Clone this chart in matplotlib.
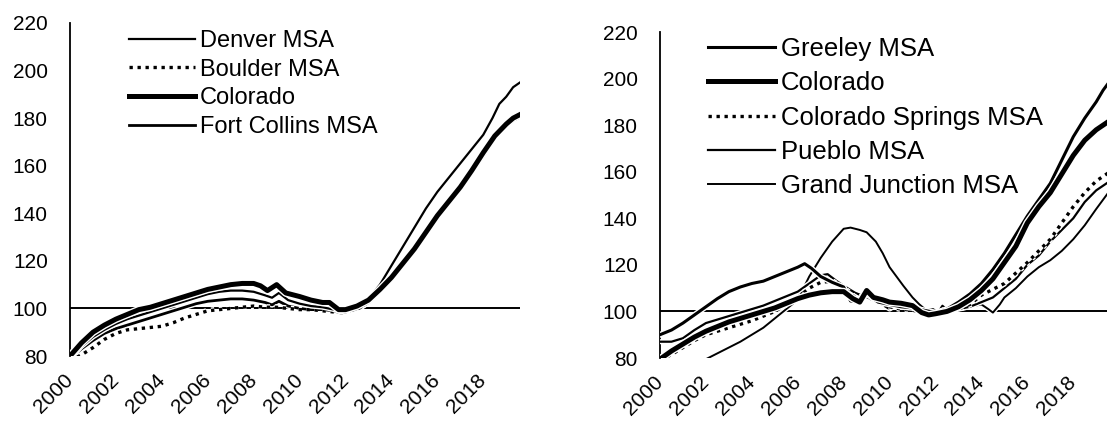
import matplotlib
matplotlib.use('Agg')
import matplotlib.pyplot as plt
import matplotlib.patheffects as pe

plt.rcParams['font.family'] = ['Liberation Sans', 'DejaVu Sans']

# ---- left panel data (index, 2012 ~ 100) ----
den_x = [2000.0, 2000.5, 2001, 2001.5, 2002, 2002.5, 2003, 2003.5, 2004, 2004.5, 2005, 2005.5, 2006, 2006.5,
         2007, 2007.5, 2008, 2008.5, 2008.8, 2009.1, 2009.5, 2010, 2010.5, 2011, 2011.5, 2011.8, 2012.2, 2012.6,
         2013, 2013.5, 2014, 2014.5, 2015, 2015.5, 2016, 2016.5, 2017, 2017.5, 2018, 2018.4, 2018.7, 2019.0,
         2019.3, 2019.6]
den_y = [79, 84, 88, 91, 93.5, 95.5, 97, 98.5, 100, 101.5, 103, 104.5, 106, 107,
         107.5, 107.5, 107, 105.5, 104.5, 106.5, 103.5, 102, 101, 100.5, 99.5, 98.5, 99.5, 101,
         104, 110, 118, 126, 134, 142, 149, 155, 161, 167, 173, 180, 186, 189,
         193, 195]

col_l_x = [2000, 2000.5, 2001, 2001.5, 2002, 2002.5, 2003, 2003.5, 2004, 2004.5, 2005, 2005.5, 2006, 2006.5,
           2007, 2007.5, 2008, 2008.3, 2008.6, 2009.0, 2009.4, 2010, 2010.5, 2011, 2011.3, 2011.7, 2012,
           2012.5, 2013, 2013.5, 2014, 2014.5, 2015, 2015.5, 2016, 2016.5, 2017, 2017.5, 2018, 2018.5, 2019,
           2019.3, 2019.6]
col_l_y = [80, 85.5, 90, 93, 95.5, 97.5, 99.5, 100.5, 102, 103.5, 105, 106.5, 108, 109,
           110, 110.5, 110.5, 109.5, 107.5, 110, 106.5, 105, 103.5, 102.5, 102.5, 99.5, 99.5,
           101, 103.5, 108, 113, 119, 125, 132, 139, 145, 151, 158, 165.5, 172.5, 177.5,
           180, 181.5]

fc_x = [2000, 2000.5, 2001, 2001.5, 2002, 2002.5, 2003, 2003.5, 2004, 2004.5, 2005, 2005.5, 2006, 2006.5,
        2007, 2007.5, 2008, 2008.5, 2008.8, 2009.1, 2009.5, 2010, 2010.5, 2011, 2011.5, 2011.8, 2012.2,
        2012.6, 2013, 2013.5, 2014, 2014.5, 2015, 2015.5, 2016, 2016.5, 2017, 2017.5, 2018, 2018.5, 2019,
        2019.3, 2019.6]
fc_y = [79, 83, 86.5, 89.5, 91.5, 93, 94.5, 96, 97.5, 99, 100.5, 102, 103, 103.5,
        104, 104, 103.5, 102.5, 101.5, 103, 101, 100, 99.5, 99.5, 99, 98, 99,
        100, 102.5, 107, 112, 118, 124, 131, 138, 144, 150, 157, 164, 171.5, 176.5,
        179, 180.5]

bou_x = [2000, 2000.5, 2001, 2001.5, 2002, 2002.5, 2003, 2003.5, 2004, 2004.5, 2005, 2005.5, 2006, 2006.5,
         2007, 2007.5, 2008, 2008.5, 2009, 2009.5, 2010, 2010.5, 2011, 2011.5, 2012, 2012.5, 2013, 2013.5,
         2014, 2014.5, 2015, 2015.5, 2016, 2016.5, 2017, 2017.5, 2018, 2018.5, 2019, 2019.3, 2019.6]
bou_y = [78, 80.5, 83.5, 87, 89.5, 91, 91.5, 92, 92.5, 94, 96, 97.5, 99, 99.5,
         100, 100.5, 101, 100.5, 100.5, 100, 99.5, 99.5, 99, 98.5, 99, 100, 102.5, 107.5,
         112.5, 118.5, 124.5, 131.5, 139, 145, 151, 158, 165, 172.5, 178, 180.5, 182]

# ---- right panel data ----
gre_x = [2000, 2000.5, 2001, 2001.5, 2002, 2002.5, 2003, 2003.5, 2004, 2004.5, 2005, 2005.5, 2006, 2006.3,
         2006.6, 2007, 2007.5, 2008, 2008.3, 2008.6, 2009, 2009.5, 2010, 2010.5, 2011, 2011.5, 2012, 2012.5,
         2013, 2013.5, 2014, 2014.5, 2015, 2015.5, 2016, 2016.5, 2017, 2017.5, 2018, 2018.5, 2019, 2019.3,
         2019.6]
gre_y = [90, 92, 95, 98.5, 102, 105.5, 108.5, 110.5, 112, 113, 115, 117, 119, 120.5,
         118.5, 115, 112.5, 110.5, 104.5, 104, 107.5, 104, 103, 102, 101.5, 100.5, 99.5, 101,
         104, 107.5, 112, 118, 125, 133, 141, 148, 155, 165, 175, 183, 190, 195,
         199]

col_r_x = [2000, 2000.5, 2001, 2001.5, 2002, 2002.5, 2003, 2003.5, 2004, 2004.5, 2005, 2005.5, 2006, 2006.5,
           2007, 2007.5, 2008, 2008.4, 2008.7, 2009.0, 2009.3, 2009.7, 2010, 2010.5, 2011, 2011.4, 2011.7,
           2012, 2012.5, 2013, 2013.5, 2014, 2014.5, 2015, 2015.5, 2016, 2016.5, 2017, 2017.5, 2018, 2018.5,
           2019, 2019.6]
col_r_y = [79.5, 83, 86, 89, 91.5, 93.5, 95.5, 97, 98.5, 100, 101.5, 103.5, 105.5, 107,
           108, 108.5, 108.5, 105.5, 104, 109, 106, 105, 104, 103.5, 102.5, 99.5, 98.5,
           99, 100, 102, 105, 109, 114, 121, 128, 138, 145, 151, 159, 167, 173.5,
           178, 182]

cs_x = [2000, 2000.5, 2001, 2001.5, 2002, 2002.5, 2003, 2003.5, 2004, 2004.5, 2005, 2005.5, 2006, 2006.5,
        2007, 2007.5, 2008, 2008.5, 2009, 2009.5, 2010, 2010.5, 2011, 2011.5, 2012, 2012.5, 2013, 2013.5,
        2014, 2014.5, 2015, 2015.5, 2016, 2016.5, 2017, 2017.5, 2018, 2018.5, 2019, 2019.6]
cs_y = [79, 81.5, 84.5, 87.5, 90, 91.5, 93, 94.5, 96, 98, 100, 103, 106, 110,
        112.5, 113, 110, 106, 106.5, 104, 102, 101, 100.5, 99.5, 99.5, 100, 101, 103,
        107, 109.5, 112, 116.5, 121, 126, 131, 138, 145, 151, 156, 160]

pue_x = [2000, 2000.5, 2001, 2001.5, 2002, 2002.5, 2003, 2003.5, 2004, 2004.5, 2005, 2005.5, 2006, 2006.5,
         2007, 2007.3, 2007.7, 2008, 2008.5, 2009, 2009.5, 2010, 2010.5, 2011, 2011.5, 2012, 2012.5, 2013,
         2013.5, 2014, 2014.5, 2015, 2015.5, 2016, 2016.5, 2017, 2017.5, 2018, 2018.5, 2019, 2019.6]
pue_y = [87, 87, 88.5, 92, 95, 96.5, 98, 99.5, 101, 102.5, 104.5, 106.5, 108.5, 112,
         115.5, 116, 113, 111, 108, 106, 104, 101, 104, 102, 100, 99.5, 100, 101,
         102, 104, 106, 110, 114, 120, 124, 130, 135, 140, 147, 152, 156]

gj_x = [2000, 2001, 2002, 2002.5, 2003, 2003.5, 2004, 2004.5, 2005, 2005.5, 2006, 2006.5, 2007, 2007.5,
        2008, 2008.3, 2008.7, 2009, 2009.4, 2009.7, 2010, 2010.3, 2010.6, 2011, 2011.3, 2011.6, 2011.9,
        2012.1, 2012.3, 2012.6, 2013, 2013.5, 2014, 2014.3, 2014.5, 2014.8, 2015, 2015.5, 2016, 2016.5,
        2017, 2017.5, 2018, 2018.5, 2019, 2019.6]
gj_y = [74, 77, 79.5, 82, 84.5, 87, 90, 93, 97, 101, 105, 115, 123, 130,
        135.5, 136, 135, 134, 130, 125, 119, 115, 111, 106, 103, 100.5, 101,
        99.5, 102.5, 100, 101, 102, 103, 101, 99.5, 103, 106, 110, 115, 119,
        122, 126, 131, 137, 144, 152]

tick_years = list(range(2000, 2019, 2))
y_ticks = list(range(80, 221, 20))

W, H = 1107, 422
fig = plt.figure(figsize=(W / 100, H / 100), dpi=100)


def px_axes(x0, x1, ytop, ybot):
    return fig.add_axes([x0 / W, 1 - ybot / H, (x1 - x0) / W, (ybot - ytop) / H])


def style(ax):
    ax.set_xlim(2000, 2019.6)
    ax.set_ylim(80, 220)
    for s in ['top', 'right', 'bottom']:
        ax.spines[s].set_visible(False)
    ax.spines['left'].set_linewidth(1.3)
    ax.set_yticks(y_ticks)
    ax.set_xticks(tick_years)
    ax.set_xticklabels([str(y) for y in tick_years], rotation=45, ha='right',
                       va='center', rotation_mode='anchor')
    ax.tick_params(axis='both', length=0, labelsize=15)
    ax.tick_params(axis='y', pad=16)
    ax.tick_params(axis='x', pad=15)
    ax.axhline(100, color='black', lw=1.4, zorder=1)


def line(ax, x, y, lw, label, ls='-'):
    ax.plot(x, y, color='black', lw=lw, ls=ls, label=label, zorder=3,
            path_effects=[pe.Stroke(linewidth=lw + 2, foreground='white'), pe.Normal()])


ax1 = px_axes(70, 520, 23, 356)
style(ax1)
line(ax1, fc_x, fc_y, 2.0, 'Fort Collins MSA')
line(ax1, bou_x, bou_y, 2.4, 'Boulder MSA', ls=(0, (1, 1.4)))
line(ax1, den_x, den_y, 1.6, 'Denver MSA')
line(ax1, col_l_x, col_l_y, 3.6, 'Colorado')
h, l = ax1.get_legend_handles_labels()
order = [2, 1, 3, 0]
ax1.legend([h[i] for i in order], [l[i] for i in order], loc='upper left',
           bbox_to_anchor=(129 / W, 1 - 30 / H), bbox_transform=fig.transFigure,
           frameon=False, fontsize=17, handlelength=2.8, handletextpad=0.2,
           labelspacing=0.28, borderpad=0, borderaxespad=0)

ax2 = px_axes(660, 1110, 32, 358)
style(ax2)
line(ax2, gj_x, gj_y, 1.4, 'Grand Junction MSA')
line(ax2, pue_x, pue_y, 1.6, 'Pueblo MSA')
line(ax2, cs_x, cs_y, 2.4, 'Colorado Springs MSA', ls=(0, (1, 1.4)))
line(ax2, gre_x, gre_y, 2.2, 'Greeley MSA')
line(ax2, col_r_x, col_r_y, 3.6, 'Colorado')
h, l = ax2.get_legend_handles_labels()
order = [3, 4, 2, 1, 0]
ax2.legend([h[i] for i in order], [l[i] for i in order], loc='upper left',
           bbox_to_anchor=(708 / W, 1 - 37 / H), bbox_transform=fig.transFigure,
           frameon=False, fontsize=18.5, handlelength=2.6, handletextpad=0.25,
           labelspacing=0.4, borderpad=0, borderaxespad=0)

fig.savefig('out.png', dpi=100)
